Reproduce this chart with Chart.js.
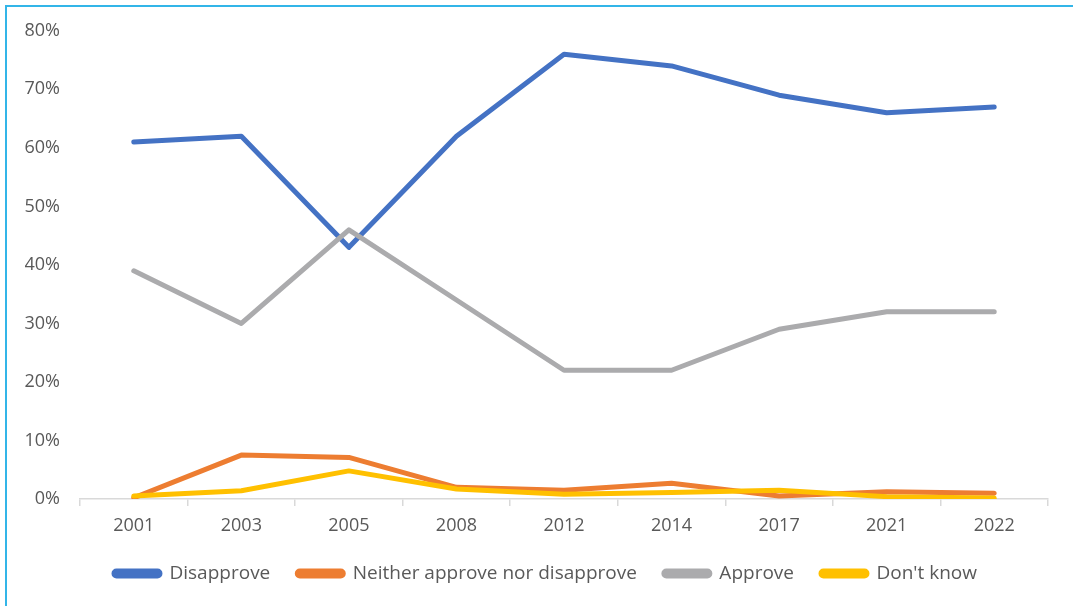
<!DOCTYPE html>
<html>
<head>
<meta charset="utf-8">
<script src="https://cdn.jsdelivr.net/npm/chart.js@4/dist/chart.umd.min.js"></script>
<style>
  html, body { margin: 0; padding: 0; background: #ffffff; overflow: hidden; }
  #frame { position: absolute; left: 5px; top: 5px; width: 1200px; height: 700px;
           border-left: 2px solid #33B5E8; border-top: 2px solid #33B5E8; }
  #wrap { position: absolute; left: 0; top: 0; width: 1073px; height: 606px; }
</style>
</head>
<body>
<div id="frame"></div>
<div id="wrap"><canvas id="c" width="1073" height="606"></canvas></div>
<script>
const years = ["2001", "2003", "2005", "2008", "2012", "2014", "2017", "2021", "2022"];
const disapprove = [61, 62, 43, 62, 76, 74, 69, 66, 67];
const neither = [0.2, 7.5, 7.1, 2.0, 1.5, 2.7, 0.5, 1.25, 1.0];
const approve = [39, 30, 46, 34, 22, 22, 29, 32, 32];
const dontKnow = [0.5, 1.4, 4.8, 1.7, 0.8, 1.1, 1.5, 0.4, 0.15];
const yTicks = [0, 10, 20, 30, 40, 50, 60, 70, 80];

const FONT = "'Open Sans', sans-serif";
const TXT = "#595959";

function ds(label, data, color, order) {
  return {
    label, data, borderColor: color, backgroundColor: color,
    borderWidth: 5, pointRadius: 0, pointHoverRadius: 0, tension: 0,
    borderCapStyle: 'round', borderJoinStyle: 'round', fill: false, order
  };
}

const shiftLegend = {
  id: 'shiftLegend',
  afterLayout(chart) { if (chart.legend) { chart.legend.left += 18; } }
};

new Chart(document.getElementById('c'), {
  type: 'line',
  data: {
    labels: years,
    datasets: [
      ds("Disapprove", disapprove, "#4472C4", 3),
      ds("Neither approve nor disapprove", neither, "#ED7D31", 2),
      ds("Approve", approve, "#ABABAD", 1),
      ds("Don't know", dontKnow, "#FFC000", 0)
    ]
  },
  plugins: [shiftLegend],
  options: {
    responsive: false,
    animation: false,
    layout: { padding: { left: 25, right: 25, top: 30, bottom: 13 } },
    plugins: {
      tooltip: { enabled: false },
      legend: {
        position: 'bottom',
        labels: {
          sort: (a, b) => a.datasetIndex - b.datasetIndex,
          boxWidth: 46, boxHeight: 5, useBorderRadius: true, borderRadius: 2.5,
          color: TXT, font: { family: FONT, size: 19 }, padding: 27
        }
      }
    },
    scales: {
      x: {
        offset: true,
        afterFit: s => { s.height = 38; },
        grid: { offset: true, drawOnChartArea: false, drawTicks: true, tickLength: 7, color: "#D9D9D9", lineWidth: 1.5 },
        border: { display: true, color: "#D9D9D9", width: 1.5 },
        ticks: { color: TXT, font: { family: FONT, size: 18 }, padding: 9, maxRotation: 0, autoSkip: false }
      },
      y: {
        min: 0, max: 80,
        afterBuildTicks: s => { s.ticks = yTicks.map(v => ({ value: v })); },
        grid: { display: false, drawTicks: false },
        border: { display: false },
        afterFit: s => { s.width = 55; },
        ticks: { color: TXT, font: { family: FONT, size: 18 }, padding: 20, callback: v => v + "%" }
      }
    }
  }
});
</script>
</body>
</html>
